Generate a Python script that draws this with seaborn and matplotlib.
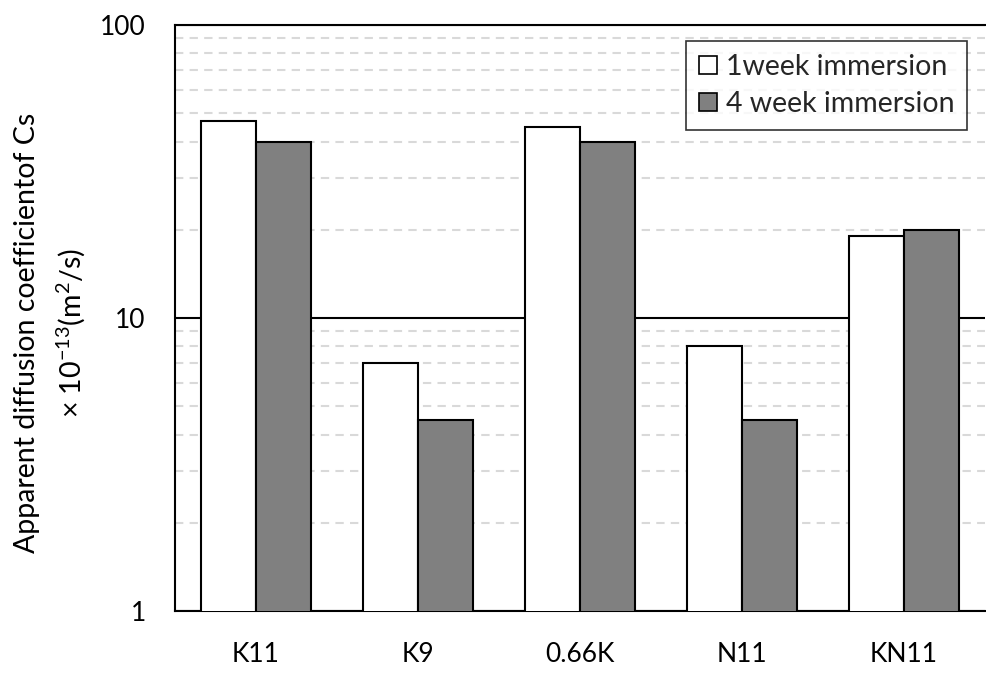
import matplotlib
matplotlib.use("Agg")
import matplotlib.pyplot as plt
import seaborn as sns
import pandas as pd
from matplotlib.ticker import FixedLocator, NullFormatter, FuncFormatter
from matplotlib.patches import Patch

# Specimens and apparent diffusion coefficients (x 10^-13 m^2/s)
specimens = ["K11", "K9", "0.66K", "N11", "KN11"]
week1 = [47, 7, 45, 8, 19]
week4 = [40, 4.5, 40, 4.5, 20]
series_names = ["1week immersion", "4 week immersion"]
series_colors = ["#ffffff", "#808080"]

df = pd.DataFrame({
    "specimen": specimens * 2,
    "D": week1 + week4,
    "series": [series_names[0]] * len(specimens) + [series_names[1]] * len(specimens),
})

sns.set_theme(style="white")
plt.rcParams["font.family"] = ["Lato", "DejaVu Sans"]
plt.rcParams["mathtext.fontset"] = "custom"
plt.rcParams["mathtext.rm"] = "Lato"

fig = plt.figure(figsize=(9.87, 6.73), dpi=100)
ax = fig.add_axes([0.1773, 0.0921, 0.8207, 0.8708])

sns.barplot(data=df, x="specimen", y="D", hue="series", order=specimens,
            hue_order=series_names, palette=series_colors, width=0.68,
            edgecolor="black", linewidth=1.5, ax=ax, legend=False, zorder=3)

ax.set_yscale("log")
ax.set_ylim(1, 100)
ax.set_xlim(-0.5, len(specimens) - 0.5)

ax.yaxis.set_major_locator(FixedLocator([1, 10, 100]))
ax.yaxis.set_major_formatter(FuncFormatter(lambda v, p: f"{v:g}"))
minor = [m * d for d in (1, 10) for m in range(2, 10)]
ax.yaxis.set_minor_locator(FixedLocator(minor))
ax.yaxis.set_minor_formatter(NullFormatter())

ax.grid(which="major", axis="y", color="black", linewidth=1.5, linestyle="-", zorder=0)
ax.grid(which="minor", axis="y", color="#d9d9d9", linewidth=1.5,
        linestyle=(0, (4, 3)), zorder=0)
ax.grid(which="both", axis="x", visible=False)
ax.set_axisbelow(True)

for side in ("left", "bottom", "top"):
    ax.spines[side].set_color("black")
    ax.spines[side].set_linewidth(1.5)
ax.spines["right"].set_visible(False)

ax.tick_params(axis="both", which="both", length=0, labelsize=19, colors="black")
ax.tick_params(axis="y", pad=21)
ax.tick_params(axis="x", pad=22)

ax.set_xlabel("")
ax.set_ylabel("Apparent diffusion coefficientof Cs\n"
              "\u00d7 10$^{\\mathregular{-13}}$(m$^{\\mathregular{2}}$/s)",
              fontsize=20.5, linespacing=1.5, color="black")
ax.yaxis.set_label_coords(-0.108, 0.474)

handles = [Patch(facecolor=c, edgecolor="black", linewidth=1.2) for c in series_colors]
leg = ax.legend(handles, series_names, loc="upper right",
                bbox_to_anchor=(0.978, 0.9727), fontsize=20.5,
                frameon=True, fancybox=False, edgecolor="black",
                handlelength=0.63, handleheight=0.6, handletextpad=0.32,
                borderpad=0.45, labelspacing=0.4, borderaxespad=0)
leg.get_frame().set_linewidth(1.2)
leg.set_zorder(5)

fig.savefig("out.png", dpi=100, facecolor="white")
